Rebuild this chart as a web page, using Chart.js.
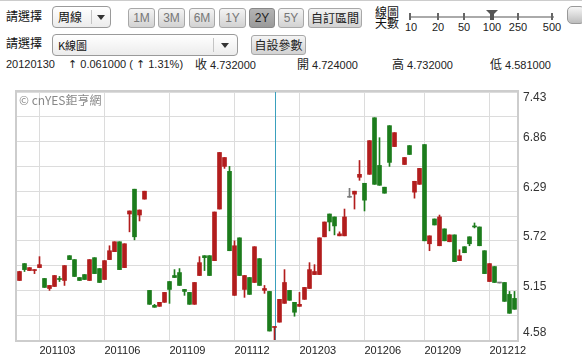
<!DOCTYPE html>
<html><head><meta charset="utf-8">
<script src="https://cdn.jsdelivr.net/npm/chart.js@4.4.0/dist/chart.umd.min.js"></script>
<style>
html,body{margin:0;padding:0;background:#fff;}
body{width:582px;height:355px;position:relative;overflow:hidden;font-family:"Noto Sans CJK TC","Liberation Sans",sans-serif;color:#111;}
.a{position:absolute;white-space:nowrap;}
.t{font-size:12px;line-height:14px;}
.n{font-family:"Liberation Sans",sans-serif;font-size:11px;line-height:13px;color:#222;}
.cj{font-family:"Noto Sans CJK TC",sans-serif;font-size:12px;}
.ar{font-family:"DejaVu Sans",sans-serif;font-size:11px;}
.sel{position:absolute;border:1px solid #9a9a9a;border-radius:4px;background:linear-gradient(#fff,#ececec);box-sizing:border-box;}
.sel .v{position:absolute;left:5px;top:3px;font-size:12px;line-height:14px;}
.sel .sep{position:absolute;top:3px;bottom:3px;width:1px;background:#c4c4c4;}
.sel .arr{position:absolute;top:8px;width:0;height:0;border-left:4px solid transparent;border-right:4px solid transparent;border-top:5px solid #333;}
.btn{position:absolute;box-sizing:border-box;border:1px solid #a8a8a8;border-radius:3px;background:linear-gradient(#f4f4f4,#d2d2d2);font-size:12px;line-height:18px;text-align:center;color:#777;font-family:"Liberation Sans",sans-serif;}
.btn.on{background:linear-gradient(#b4b4b4,#9a9a9a);color:#222;border-color:#888;}
.btn.cjb{font-family:"Noto Sans CJK TC",sans-serif;color:#222;}
.tick{position:absolute;top:13px;width:2px;height:7px;background:#666;}
.lab{position:absolute;top:21px;font-family:"Liberation Sans",sans-serif;font-size:11px;line-height:12px;color:#222;transform:translateX(-50%);}
#wrap{position:absolute;left:0;top:80px;width:582px;height:275px;}
</style></head>
<body>
<div class="a" style="left:0;top:0;width:582px;height:1px;background:#ccc"></div>
<!-- row 1 -->
<div class="a t" style="left:6px;top:9px">請選擇</div>
<div class="sel" style="left:52px;top:6px;width:59px;height:22px">
  <div class="v">周線</div><div class="sep" style="left:38px"></div><div class="arr" style="left:44px"></div>
</div>
<div class="btn" style="left:128px;top:8px;width:27px;height:20px">1M</div>
<div class="btn" style="left:158px;top:8px;width:27px;height:20px">3M</div>
<div class="btn" style="left:189px;top:8px;width:26px;height:20px">6M</div>
<div class="btn" style="left:219px;top:8px;width:27px;height:20px">1Y</div>
<div class="btn on" style="left:249px;top:8px;width:26px;height:20px">2Y</div>
<div class="btn" style="left:278px;top:8px;width:26px;height:20px">5Y</div>
<div class="btn cjb" style="left:308px;top:8px;width:54px;height:20px">自訂區間</div>
<div class="a" style="left:375px;top:6px;font-size:12px;line-height:11px">線圖<br>天數</div>
<div class="a" style="left:409px;top:16px;width:145px;height:2px;background:#aaa"></div>
<div class="tick" style="left:409px"></div>
<div class="tick" style="left:437px"></div>
<div class="tick" style="left:463px"></div>
<div class="tick" style="left:517px"></div>
<div class="tick" style="left:551px"></div>
<div class="a" style="left:486px;top:10px;width:0;height:0;border-left:6px solid transparent;border-right:6px solid transparent;border-top:6px solid #555"></div>
<div class="a" style="left:490px;top:14px;width:4px;height:6px;background:#555"></div>
<div class="lab" style="left:411px">10</div>
<div class="lab" style="left:438px">20</div>
<div class="lab" style="left:464px">50</div>
<div class="lab" style="left:492px">100</div>
<div class="lab" style="left:518px">250</div>
<div class="lab" style="left:552px">500</div>
<div class="a" style="left:567px;top:6px;width:18px;height:18px;border-radius:5px;box-sizing:border-box;border:1px solid #999;background:linear-gradient(#f6f6f6,#bdbdbd)"></div>
<!-- row 2 -->
<div class="a t" style="left:6px;top:36px">請選擇</div>
<div class="sel" style="left:52px;top:34px;width:186px;height:22px">
  <div class="v" style="font-size:11px">K線圖</div><div class="sep" style="left:160px"></div><div class="arr" style="left:168px"></div>
</div>
<div class="btn cjb" style="left:251px;top:35px;width:55px;height:20px">自設參數</div>
<!-- row 3 -->
<div class="a n" style="left:6px;top:58px">20120130</div>
<div class="a n" style="left:68px;top:58px"><span class="ar">↑</span> 0.061000 ( <span class="ar">↑</span> 1.31%)</div>
<div class="a n" style="left:195px;top:57px"><span class="cj">收</span> 4.732000</div>
<div class="a n" style="left:297px;top:57px"><span class="cj">開</span> 4.724000</div>
<div class="a n" style="left:392px;top:57px"><span class="cj">高</span> 4.732000</div>
<div class="a n" style="left:490px;top:57px"><span class="cj">低</span> 4.581000</div>

<div id="wrap"><canvas id="c" width="582" height="275"></canvas></div>
<div class="a" style="left:19px;top:93px;font-size:12px;line-height:14px;color:#888">© cnYES鉅亨網</div>

<script>
// weekly candles (index 76 = empty week)
const openP  = [5.264,5.458,5.378,5.378,5.412,5.287,5.172,5.195,5.287,5.264,
                5.549,5.504,5.298,5.332,5.264,5.526,5.401,5.275,5.504,5.595,
                5.709,5.412,6.028,6.313,6.016,6.199,5.150,4.978,4.967,5.013,
                5.252,5.321,5.355,5.161,5.127,4.990,5.321,5.549,5.549,5.492,
                6.085,6.575,6.518,5.093,5.754,5.161,5.298,5.241,5.515,5.150,
                5.138,4.724,4.785,5.001,5.150,5.013,4.967,5.047,5.172,5.332,
                5.332,5.766,6.028,5.994,5.777,5.777,6.220,6.256,6.450,6.381,
                6.484,7.134,6.586,6.336,7.043,6.803,null,6.597,6.814,6.279,
                6.369,6.826,5.686,5.971,5.663,5.857,5.709,5.788,5.492,5.652,
                5.766,5.891,5.879,5.606,5.252,5.424,5.235,5.241,5.104,5.058];
const highP  = [5.370,5.458,5.412,5.389,5.538,5.287,5.207,5.321,5.310,5.435,
                5.549,5.504,5.298,5.332,5.504,5.526,5.401,5.492,5.663,5.709,
                5.709,5.686,6.063,6.313,6.074,6.290,5.150,4.990,5.013,5.127,
                5.252,5.389,5.401,5.161,5.127,5.241,5.538,5.549,5.549,6.051,
                6.735,6.677,6.575,5.720,5.754,5.321,5.298,5.652,5.515,5.207,
                5.138,4.732,5.047,5.389,5.150,5.013,5.127,5.184,5.469,5.446,
                5.754,5.936,6.028,5.994,5.823,6.085,6.323,6.290,6.643,6.381,
                6.871,7.134,6.905,6.336,7.043,6.963,null,6.677,6.814,6.404,
                6.552,6.826,5.777,5.971,6.016,5.857,5.788,5.788,5.617,5.652,
                5.766,5.925,5.879,5.606,5.458,5.424,5.235,5.241,5.138,5.138];
const lowP   = [5.264,5.367,5.378,5.343,5.412,5.184,5.150,5.195,5.252,5.207,
                5.504,5.310,5.264,5.275,5.264,5.343,5.241,5.275,5.504,5.595,
                5.389,5.412,5.823,5.731,5.948,6.199,4.990,4.956,4.967,5.013,
                5.001,5.298,5.207,5.093,4.990,4.990,5.321,5.378,5.321,5.492,
                6.085,6.552,5.606,5.093,5.321,5.070,5.104,5.241,5.207,5.116,
                4.683,4.581,4.785,5.001,5.036,4.853,4.967,5.047,5.172,5.332,
                5.332,5.766,5.834,5.788,5.777,5.777,6.220,6.085,6.415,6.063,
                6.484,6.369,6.358,6.267,6.575,6.803,null,6.597,6.712,6.210,
                6.369,5.720,5.606,5.902,5.663,5.720,5.709,5.481,5.492,5.583,
                5.663,5.868,5.663,5.343,5.252,5.241,5.235,5.024,4.887,4.933];
const closeP = [5.367,5.389,5.412,5.389,5.446,5.184,5.207,5.321,5.275,5.435,
                5.504,5.310,5.264,5.275,5.504,5.343,5.241,5.492,5.606,5.709,
                5.389,5.686,6.063,5.766,6.074,6.290,4.990,4.956,5.013,5.127,
                5.161,5.298,5.207,5.138,4.990,5.241,5.469,5.526,5.321,6.051,
                6.735,6.677,5.606,5.663,5.321,5.321,5.104,5.652,5.207,5.172,
                4.683,4.732,5.047,5.241,5.036,4.899,4.990,5.184,5.389,5.367,
                5.754,5.936,5.936,5.891,5.800,5.994,6.220,6.290,6.484,6.187,
                6.871,6.369,6.358,6.267,6.621,6.963,null,6.677,6.712,6.404,
                6.552,5.720,5.777,5.902,5.994,5.720,5.788,5.481,5.549,5.583,
                5.686,5.879,5.663,5.343,5.458,5.241,5.235,5.024,4.887,4.933];
const xTickIndex  = [4, 17, 30, 43, 56, 69, 81, 94];
const xTickLabels = ['201103','201106','201109','201112','201203','201206','201209','201212'];
const yGrid   = [4.58,4.865,5.15,5.435,5.72,6.005,6.29,6.575,6.86,7.145,7.43];
const yLabels = [4.58,5.15,5.72,6.29,6.86,7.43];
const cursorIndex = 51;

const UP='#b21d1d', DOWN='#1c7c1c', FLAT='#7a7a7a';
const cats = openP.map((_, i) => String(i));
const bodies = openP.map((o, i) => o == null ? null : [o, closeP[i]]);
const wicks  = openP.map((o, i) => o == null ? null : [lowP[i], highP[i]]);
const colors = openP.map((o, i) => o == null ? FLAT : (closeP[i] > o ? UP : (closeP[i] < o ? DOWN : FLAT)));

const framePlugin = {
  id: 'frame',
  beforeDatasetsDraw(chart) {
    const {ctx, chartArea: a, scales} = chart;
    const x = Math.round(scales.x.getPixelForValue(cursorIndex)) + 0.5;
    ctx.save();
    ctx.strokeStyle = '#3aa0bd'; ctx.lineWidth = 1;
    ctx.beginPath(); ctx.moveTo(x, a.top); ctx.lineTo(x, a.bottom); ctx.stroke();
    ctx.restore();
  },
  afterDraw(chart) {
    const {ctx, chartArea: a, scales} = chart;
    ctx.save();
    ctx.strokeStyle = '#cdcdcd'; ctx.lineWidth = 2;
    ctx.strokeRect(a.left - 1, a.top - 1, a.right - a.left + 2, a.bottom - a.top + 2);
    ctx.font = '12px "Liberation Sans", sans-serif';
    ctx.fillStyle = '#333'; ctx.textAlign = 'left'; ctx.textBaseline = 'middle';
    yLabels.forEach(v => {
      let y = scales.y.getPixelForValue(v) - 4;
      y = Math.max(a.top + 6, Math.min(a.bottom - 7, y));
      ctx.fillText(v.toFixed(2), a.right + 6, y);
    });
    ctx.restore();
  }
};

new Chart(document.getElementById('c'), {
  type: 'bar',
  data: { labels: cats, datasets: [
    { data: bodies, backgroundColor: colors, barThickness: 4, minBarLength: 1, grouped: false, borderWidth: 0 },
    { data: wicks, backgroundColor: colors, barThickness: 1, grouped: false, borderWidth: 0 }
  ]},
  options: {
    responsive: false, animation: false, events: [],
    layout: { padding: { left: 17, top: 12, right: 0, bottom: 0 } },
    plugins: { legend: { display: false }, tooltip: { enabled: false } },
    scales: {
      x: {
        offset: true,
        grid: { offset: false, drawTicks: false, color: c => xTickIndex.includes(c.index) ? '#dcdcdc' : 'rgba(0,0,0,0)' },
        border: { display: false },
        ticks: { autoSkip: false, maxRotation: 0, minRotation: 0, align: 'start', padding: 4,
                 font: { size: 11, family: 'Liberation Sans' }, color: '#222',
                 callback: (v, i) => { const k = xTickIndex.indexOf(i); return k >= 0 ? xTickLabels[k] : ''; } },
        afterFit: s => { s.height = 15; }
      },
      y: {
        position: 'right', min: 4.58, max: 7.43,
        afterBuildTicks: s => { s.ticks = yGrid.map(v => ({ value: v })); },
        grid: { color: '#dcdcdc', drawTicks: false },
        border: { display: false },
        ticks: { display: false },
        afterFit: s => { s.width = 65; }
      }
    }
  },
  plugins: [framePlugin]
});
</script>
</body></html>
